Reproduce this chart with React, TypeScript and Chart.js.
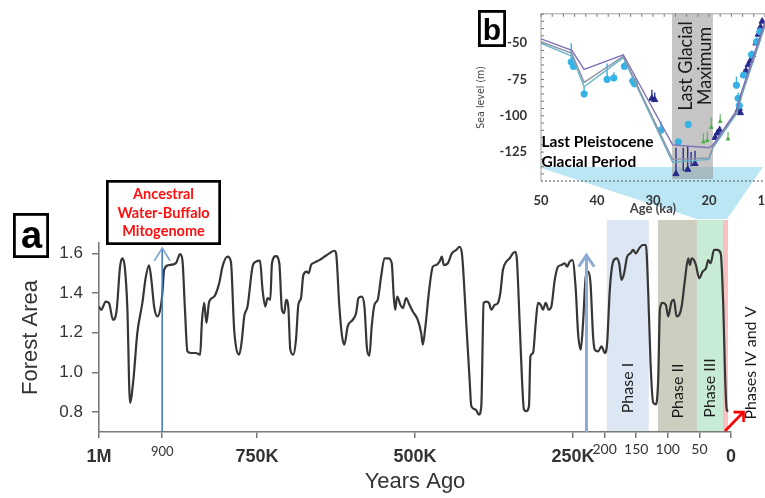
import React, { useEffect, useRef } from 'react';
import { Chart, registerables } from 'chart.js';

Chart.register(...registerables);

// ---------------- Panel a data (thousand years ago, forest area) ----------------
const forestYearsK = [
  1000, 996.4, 989.4, 984.2, 977.8, 972.0, 966.7, 963.1, 959.3, 955.2, 950.9, 945.7, 939.3, 931.4, 926.0,
  920.8, 917.1, 912.8, 907.6, 902.2, 899.7, 897.0, 890.7, 878.5, 871.6, 868.0, 864.2, 860.1, 854.7, 846.8,
  839.9, 837.3, 833.6, 830.0, 825.7, 817.8, 809.8, 804.6, 796.7, 791.3, 786.1, 778.1, 773.9, 770.2, 765.0,
  757.0, 751.7, 745.3, 741.2, 736.9, 733.3, 729.0, 726.3, 720.0, 714.7, 710.5, 706.8, 704.1, 700.5, 697.3,
  692.6, 688.3, 684.6, 680.4, 676.7, 671.5, 668.3, 664.5, 659.3, 651.4, 643.4, 635.5, 627.6, 624.9, 619.7,
  615.4, 611.7, 606.5, 598.6, 593.2, 589.5, 584.3, 580.0, 575.8, 572.1, 568.5, 564.2, 559.0, 553.6, 548.3,
  542.0, 536.8, 533.6, 531.4, 528.2, 523.0, 519.3, 514.0, 508.7, 503.5, 495.6, 490.2, 487.6, 483.8, 477.0,
  471.8, 466.4, 461.2, 457.5, 454.4, 448.0, 441.7, 434.7, 429.5, 425.8, 418.9, 413.6, 410.9, 404.1, 398.9,
  395.1, 391.4, 387.2, 383.0, 379.2, 374.0, 368.8, 365.0, 360.9, 355.5, 350.2, 345.0, 341.2, 338.7, 334.4,
  330.7, 327.6, 323.8, 319.7, 317.4, 313.3, 309.0, 305.4, 301.1, 297.5, 293.2, 288.4, 284.2, 278.9, 273.7,
  268.3, 263.1, 259.4, 255.2, 250.9, 245.6, 242.0, 237.7, 234.1, 229.8, 226.1, 222.3, 218.2, 215.5, 210.3,
  204.9, 199.7, 196.0, 191.8, 186.5, 181.1, 177.0, 173.2, 169.1, 164.3, 159.0, 154.8, 150.6, 145.3, 139.9,
  134.7, 131.1, 127.3, 123.1, 118.9, 115.2, 112.5, 108.2, 103.0, 99.4, 94.0, 90.3, 86.1, 81.9, 78.1,
  72.9, 67.7, 65.0, 62.3, 58.6, 55.5, 50.2, 44.9, 39.6, 36.0, 32.2, 26.9, 21.7, 16.3, 12.2,
  9.5, 6.8, 4.3,
];
const forestArea = [
  1.332, 1.315, 1.357, 1.35, 1.265, 1.315, 1.533, 1.575, 1.533, 1.33, 0.847, 0.96, 1.2, 1.35, 1.48,
  1.54, 1.466, 1.332, 1.282, 1.332, 1.40, 1.516, 1.54, 1.55, 1.596, 1.566, 1.33, 1.106, 1.098, 1.098,
  1.09, 1.249, 1.35, 1.249, 1.357, 1.382, 1.45, 1.533, 1.583, 1.558, 1.215, 1.09, 1.165, 1.282, 1.332,
  1.533, 1.558, 1.563, 1.416, 1.332, 1.374, 1.366, 1.55, 1.586, 1.55, 1.315, 1.299, 1.366, 1.332, 1.115,
  1.09, 1.165, 1.34, 1.374, 1.49, 1.508, 1.5, 1.541, 1.553, 1.566, 1.583, 1.60, 1.613, 1.60, 1.332,
  1.182, 1.14, 1.232, 1.265, 1.299, 1.374, 1.382, 1.332, 1.115, 1.085, 1.232, 1.34, 1.366, 1.483, 1.575,
  1.575, 1.55, 1.382, 1.315, 1.382, 1.34, 1.324, 1.374, 1.34, 1.307, 1.265, 1.198, 1.14, 1.224, 1.432,
  1.533, 1.541, 1.558, 1.583, 1.541, 1.55, 1.60, 1.617, 1.633, 1.60, 1.249, 0.964, 0.83, 0.813, 0.788,
  0.83, 1.35, 1.357, 1.35, 1.316, 1.34, 1.35, 1.40, 1.516, 1.558, 1.575, 1.60, 1.608, 1.566, 1.249,
  0.964, 0.813, 0.805, 0.83, 1.08, 1.098, 1.249, 1.35, 1.34, 1.316, 1.35, 1.316, 1.332, 1.466, 1.533,
  1.541, 1.55, 1.533, 1.558, 1.566, 1.416, 1.198, 1.115, 1.249, 1.483, 1.508, 1.45, 1.182, 1.115, 1.106,
  1.131, 1.098, 1.148, 1.416, 1.558, 1.575, 1.55, 1.466, 1.5, 1.583, 1.60, 1.617, 1.60, 1.625, 1.642,
  1.642, 1.416, 1.048, 0.847, 0.839, 0.964, 1.316, 1.35, 1.34, 1.282, 1.357, 1.366, 1.282, 1.29, 1.332,
  1.466, 1.575, 1.541, 1.575, 1.566, 1.541, 1.474, 1.508, 1.525, 1.566, 1.55, 1.617, 1.617, 1.60, 1.332,
  0.998, 0.813, 0.805,
];
const yearTicksK = [1000, 900, 750, 500, 250, 200, 150, 100, 50, 0];
const yearTickLabels = ['1M', '900', '750K', '500K', '250K', '200', '150', '100', '50', '0'];
const forestTicks = [0.8, 1.0, 1.2, 1.4, 1.6];
const phaseNames = ['Phase I', 'Phase II', 'Phase III', ''];
const phaseStartK = [196.5, 115.7, 53.9, 12.7];
const phaseEndK = [130.0, 53.9, 12.7, 4.8];
const arrowYearsK = [900, 228.7];
const arrowTopArea = [1.627, 1.591];

// ---------------- Panel b data (ka, sea level m) ----------------
const ageTicksKa = [50, 40, 30, 20, 10];
const seaTicksM = [-125, -100, -75, -50];
const modelAgeKa = [50, 44.5, 42.3, 35.3, 26.5, 20.0, 19.3, 15.0, 14.4, 10.0];
const modelSeaA = [-47, -55, -68, -58, -120, -122, -120, -96, -86, -35];
const modelSeaB = [-49, -57, -77, -59, -130, -129, -121, -97, -88, -37];
const modelSeaC = [-50, -59, -80, -60, -132, -130, -122, -98, -89, -38];
const lgmStartKa = 26.6;
const lgmEndKa = 19.3;

const circleAgeKa = [44.6, 44.2, 42.3, 38.2, 37.0, 35.1, 33.6, 33.3, 28.6, 25.5, 23.7, 15.1, 14.8, 14.6, 13.8, 12.4, 11.5, 10.9];
const circleSeaM = [-63, -66, -85, -75, -74, -66, -76, -78, -110, -118, -106, -79, -88, -93, -72, -58, -49, -42];
const circleTopM = [-50, -60, -80, -64, -70, -63, -72, -74, -104, -116, -106, -73, -84, -90, -68, -55, -46, -40];

const triAgeKa = [30.2, 29.7, 25.9, 23.8, 22.5, 18.9, 18.5, 18.1, 14.8, 14.6, 14.4, 13.8, 13.4, 13.0, 12.6, 12.2, 11.6, 11.2, 10.8, 10.5];
const triSeaM = [-88, -89, -140, -137, -133, -115, -112, -110, -96, -95, -98, -72, -69, -65, -62, -58, -50, -44, -39, -35];
const triTopM = [-82, -84, -122, -121, -124, -112, -109, -107, -93, -92, -95, -70, -67, -63, -60, -56, -48, -42, -37, -33];

const barAgeKa = [24.6, 23.2];
const barLowM = [-138, -135];
const barTopM = [-122, -125];

const greenAgeKa = [21.0, 20.3, 19.6, 18.0, 16.6];
const greenSeaM = [-118, -117, -108, -104, -116];
const greenTopM = [-112, -111, -101, -99, -111];

// ---------------- styles ----------------
const ARIAL = '"Liberation Sans", Arial, sans-serif';
const CALIBRI = 'Lato, "Open Sans", sans-serif';
const phaseColors = ['#dde6f3', '#cdcdc0', '#c8ebd5', '#f8c0c0'];

function arrow(ctx: CanvasRenderingContext2D, x1: number, y1: number, x2: number, y2: number,
  color: string, width: number, head: number, spread: number, headColor?: string) {
  ctx.save();
  ctx.strokeStyle = color;
  ctx.lineWidth = width;
  ctx.beginPath();
  ctx.moveTo(x1, y1);
  ctx.lineTo(x2, y2);
  ctx.stroke();
  const ang = Math.atan2(y2 - y1, x2 - x1);
  ctx.strokeStyle = headColor || color;
  ctx.beginPath();
  ctx.moveTo(x2 - head * Math.cos(ang - spread), y2 - head * Math.sin(ang - spread));
  ctx.lineTo(x2, y2);
  ctx.lineTo(x2 - head * Math.cos(ang + spread), y2 - head * Math.sin(ang + spread));
  ctx.stroke();
  ctx.restore();
}

function vText(ctx: CanvasRenderingContext2D, text: string, cx: number, cy: number, font: string, color: string, squeeze = 1) {
  ctx.save();
  ctx.translate(cx, cy);
  ctx.rotate(-Math.PI / 2);
  ctx.scale(squeeze, 1);
  ctx.font = font;
  ctx.fillStyle = color;
  ctx.textAlign = 'center';
  ctx.textBaseline = 'middle';
  ctx.fillText(text, 0, 0);
  ctx.restore();
}

function labelBox(ctx: CanvasRenderingContext2D, x: number, y: number, w: number, h: number, lw: number) {
  ctx.save();
  ctx.fillStyle = '#ffffff';
  ctx.fillRect(x, y, w, h);
  ctx.strokeStyle = '#000000';
  ctx.lineWidth = lw;
  ctx.strokeRect(x + lw / 2, y + lw / 2, w - lw, h - lw);
  ctx.restore();
}

const mainDecor = {
  id: 'mainDecor',
  beforeDraw(chart: any) {
    const { ctx } = chart;
    const xs = chart.scales.x;
    const ys = chart.scales.y;
    ctx.save();
    // connector from inset b down to the recent phases
    ctx.fillStyle = 'rgba(120, 205, 232, 0.5)';
    ctx.beginPath();
    ctx.moveTo(538, 167);
    ctx.lineTo(763, 167);
    ctx.lineTo(727, 219);
    ctx.lineTo(697, 219);
    ctx.closePath();
    ctx.fill();
    // phase bands
    const top = ys.getPixelForValue(1.768);
    const bottom = ys.getPixelForValue(0.7);
    phaseStartK.forEach((s, i) => {
      const x1 = xs.getPixelForValue(s);
      const x2 = xs.getPixelForValue(phaseEndK[i]);
      ctx.fillStyle = phaseColors[i];
      ctx.fillRect(x1, top, x2 - x1, bottom - top);
    });
    ctx.restore();
  },
  afterDraw(chart: any) {
    const { ctx } = chart;
    const xs = chart.scales.x;
    const ys = chart.scales.y;
    ctx.save();
    // phase labels
    phaseNames.forEach((n, i) => {
      if (!n) return;
      const cx = (xs.getPixelForValue(phaseStartK[i]) + xs.getPixelForValue(phaseEndK[i])) / 2;
      const cys = [388, 391, 388];
      vText(ctx, n, cx, cys[i], `16px ${CALIBRI}`, '#1a1a1a');
    });
    vText(ctx, 'Phases IV and V', 751, 363, `16px ${CALIBRI}`, '#1a1a1a');

    // arrows
    const base = ys.getPixelForValue(0.7);
    const ax0 = xs.getPixelForValue(arrowYearsK[0]);
    arrow(ctx, ax0, base, ax0, ys.getPixelForValue(arrowTopArea[0]), '#4a7dbd', 1.6, 15, 0.55, '#7fa3d3');
    const ax1 = xs.getPixelForValue(arrowYearsK[1]);
    arrow(ctx, ax1, base, ax1, ys.getPixelForValue(arrowTopArea[1]), '#8eaad3', 3, 14, 0.59);
    arrow(ctx, 725, 431, 743.5, 412, '#ff0000', 2.6, 10, Math.PI / 4);

    // panel label a
    labelBox(ctx, 13, 213, 36, 45, 2.8);
    ctx.fillStyle = '#000';
    ctx.font = `bold 38px ${ARIAL}`;
    ctx.textAlign = 'center';
    ctx.textBaseline = 'alphabetic';
    ctx.fillText('a', 31.5, 248);

    // annotation box
    labelBox(ctx, 106, 180, 115, 65, 2.7);
    ctx.fillStyle = '#ff1010';
    ctx.font = `bold 14.5px ${CALIBRI}`;
    ctx.fillText('Ancestral', 163.5, 198.5);
    ctx.fillText('Water-Buffalo', 163.5, 217.5);
    ctx.fillText('Mitogenome', 163.5, 236);
    ctx.restore();
  },
};

const insetDecor = {
  id: 'insetDecor',
  beforeDatasetsDraw(chart: any) {
    const { ctx, chartArea: a } = chart;
    const xs = chart.scales.x;
    const ys = chart.scales.y;
    ctx.save();
    const x1 = xs.getPixelForValue(lgmStartKa);
    const x2 = xs.getPixelForValue(lgmEndKa);
    ctx.fillStyle = 'rgba(150, 150, 150, 0.55)';
    ctx.fillRect(x1, a.top, x2 - x1, a.bottom - a.top - 2);
    // frame
    ctx.strokeStyle = '#a0a0a0';
    ctx.lineWidth = 1;
    ctx.beginPath();
    ctx.moveTo(a.left, a.bottom);
    ctx.lineTo(a.left, a.top);
    ctx.lineTo(a.right, a.top);
    ctx.stroke();
    ctx.strokeStyle = '#777';
    for (let k = 10; k <= 50; k += 2) {
      const px = xs.getPixelForValue(k);
      ctx.beginPath();
      ctx.moveTo(px, a.top);
      ctx.lineTo(px, a.top + 3);
      ctx.stroke();
    }
    for (let m = -140; m <= -30; m += 5) {
      const py = ys.getPixelForValue(m);
      ctx.beginPath();
      ctx.moveTo(a.left, py);
      ctx.lineTo(a.left + 3, py);
      ctx.stroke();
    }
    ctx.strokeStyle = '#555';
    ctx.setLineDash([2, 2]);
    ctx.beginPath();
    ctx.moveTo(a.left, a.bottom);
    ctx.lineTo(a.right, a.bottom);
    ctx.stroke();
    ctx.setLineDash([]);
    // vertical error bars
    chart.data.datasets.forEach((ds: any) => {
      if (!ds.errTop) return;
      ctx.strokeStyle = ds.errColor;
      ctx.lineWidth = ds.errWidth;
      ds.data.forEach((p: any, j: number) => {
        const px = xs.getPixelForValue(p.x);
        ctx.beginPath();
        ctx.moveTo(px, ys.getPixelForValue(p.y));
        ctx.lineTo(px, ys.getPixelForValue(ds.errTop[j]));
        ctx.stroke();
      });
    });
    ctx.restore();
  },
  afterDraw(chart: any) {
    const { ctx } = chart;
    const xs = chart.scales.x;
    ctx.save();
    const cx = (xs.getPixelForValue(lgmStartKa) + xs.getPixelForValue(lgmEndKa)) / 2;
    vText(ctx, 'Last Glacial', cx - 6.5, 66, `20px ${CALIBRI}`, '#1a1a1a', 0.9);
    vText(ctx, 'Maximum', cx + 12, 66, `20px ${CALIBRI}`, '#1a1a1a', 0.9);
    ctx.fillStyle = '#000';
    ctx.font = `bold 15.5px ${CALIBRI}`;
    ctx.textAlign = 'left';
    ctx.textBaseline = 'alphabetic';
    ctx.fillText('Last Pleistocene', 71.5, 146.7);
    ctx.fillText('Glacial Period', 71.5, 166.7);
    // panel label b
    labelBox(ctx, 8, 10, 28, 37, 2.8);
    ctx.fillStyle = '#000';
    ctx.font = `bold 30px ${ARIAL}`;
    ctx.textAlign = 'center';
    ctx.fillText('b', 22, 39.5);
    ctx.restore();
  },
};

export default function App() {
  const mainRef = useRef<HTMLCanvasElement>(null);
  const insetRef = useRef<HTMLCanvasElement>(null);

  useEffect(() => {
    const main = new Chart(mainRef.current as HTMLCanvasElement, {
      type: 'line',
      data: {
        datasets: [{
          data: forestYearsK.map((k, i) => ({ x: k, y: forestArea[i] })),
          borderColor: '#363636',
          borderWidth: 2.2,
          pointRadius: 0,
          cubicInterpolationMode: 'monotone',
          fill: false,
        }],
      },
      options: {
        responsive: false,
        animation: false,
        layout: { padding: { top: 243, right: 34, left: 0, bottom: 0 } },
        plugins: { legend: { display: false }, tooltip: { enabled: false } },
        scales: {
          x: {
            type: 'linear',
            min: 0,
            max: 1000,
            reverse: true,
            afterFit: (s: any) => { s.height = 66; },
            afterBuildTicks: (s: any) => { s.ticks = yearTicksK.map((v) => ({ value: v })); },
            grid: { display: true, drawOnChartArea: false, drawTicks: true, tickLength: 6, color: '#777', lineWidth: 1.5 },
            border: { display: true, color: '#7a7a7a', width: 1.6 },
            ticks: {
              autoSkip: false,
              maxRotation: 0,
              minRotation: 0,
              padding: 8,
              color: '#333',
              callback: (_v: any, i: number) => yearTickLabels[i],
              font: (c: any) => {
                const lab = yearTickLabels[c.index];
                if (lab === '900') return { family: CALIBRI, size: 13, lineHeight: 0.92 };
                if (['200', '150', '100', '50'].includes(lab)) return { family: CALIBRI, size: 14, lineHeight: 0.5 };
                return { family: ARIAL, size: 18, weight: 'bold', lineHeight: 1.2 };
              },
            },
            title: { display: true, text: 'Years Ago', color: '#333', font: { family: ARIAL, size: 22 }, padding: { top: 0, bottom: 3 } },
          },
          y: {
            min: 0.7,
            max: 1.652,
            bounds: 'data',
            afterFit: (s: any) => { s.width = 99; },
            afterBuildTicks: (s: any) => { s.ticks = forestTicks.map((v) => ({ value: v })); },
            grid: { display: true, drawOnChartArea: false, drawTicks: true, tickLength: 7, color: '#777', lineWidth: 1.5 },
            border: { display: true, color: '#7a7a7a', width: 1.6 },
            ticks: {
              padding: 9,
              color: '#333',
              font: { family: ARIAL, size: 17 },
              callback: (v: any) => Number(v).toFixed(1),
            },
            title: { display: true, text: 'Forest Area', color: '#333', font: { family: ARIAL, size: 22 }, padding: { top: 18, bottom: 0 } },
          },
        },
      } as any,
      plugins: [mainDecor],
    });

    const pts = (xa: number[], ya: number[]) => xa.map((x, i) => ({ x, y: ya[i] }));

    const inset = new Chart(insetRef.current as HTMLCanvasElement, {
      type: 'scatter',
      data: {
        datasets: [
          { data: pts(modelAgeKa, modelSeaA), showLine: true, borderColor: '#7b6fb8', borderWidth: 1.4, pointRadius: 0 },
          { data: pts(modelAgeKa, modelSeaB), showLine: true, borderColor: '#8d93a6', borderWidth: 1.4, pointRadius: 0 },
          { data: pts(modelAgeKa, modelSeaC), showLine: true, borderColor: '#62b3c6', borderWidth: 1.4, pointRadius: 0 },
          {
            data: pts(circleAgeKa, circleSeaM), pointStyle: 'circle', pointRadius: 3.2,
            backgroundColor: '#36b3e6', borderColor: '#36b3e6', errTop: circleTopM, errColor: '#36b3e6', errWidth: 1.4,
          },
          {
            data: pts(barAgeKa, barLowM), pointRadius: 0, errTop: barTopM, errColor: '#2a2f8f', errWidth: 1.4,
          },
          {
            data: pts(greenAgeKa, greenSeaM), pointStyle: 'triangle', pointRadius: 2,
            backgroundColor: '#4cae4c', borderColor: '#4cae4c', errTop: greenTopM, errColor: '#5cb85c', errWidth: 1.2,
          },
          {
            data: pts(triAgeKa, triSeaM), pointStyle: 'triangle', pointRadius: 3.6,
            backgroundColor: '#25298a', borderColor: '#25298a', errTop: triTopM, errColor: '#2a2f8f', errWidth: 1.4,
          },
        ],
      } as any,
      options: {
        responsive: false,
        animation: false,
        layout: { padding: { top: 12, right: 35, left: 0, bottom: 0 } },
        plugins: { legend: { display: false }, tooltip: { enabled: false } },
        scales: {
          x: {
            type: 'linear',
            min: 10,
            max: 50,
            reverse: true,
            afterFit: (s: any) => { s.height = 39; },
            afterBuildTicks: (s: any) => { s.ticks = ageTicksKa.map((v) => ({ value: v })); },
            grid: { display: false },
            border: { display: false },
            ticks: { autoSkip: false, maxRotation: 0, padding: 3.7, color: '#333', font: { family: CALIBRI, size: 13, weight: 'bold' } },
            title: { display: true, text: 'Age (ka)', color: '#444', font: { family: CALIBRI, size: 13, weight: 'bold' }, padding: { top: 0, bottom: 3 } },
          },
          y: {
            min: -144.9,
            max: -29.8,
            bounds: 'data',
            afterFit: (s: any) => { s.width = 71; },
            afterBuildTicks: (s: any) => { s.ticks = seaTicksM.map((v) => ({ value: v })); },
            grid: { display: false },
            border: { display: false },
            ticks: { padding: 6, color: '#333', font: { family: CALIBRI, size: 13, weight: 'bold' } },
            title: { display: true, text: 'Sea level (m)', color: '#444', font: { family: '"DejaVu Sans Condensed", "Liberation Sans Narrow", sans-serif', size: 10.5 }, padding: { top: 5, bottom: 0 } },
          },
        },
      } as any,
      plugins: [insetDecor],
    });

    return () => {
      main.destroy();
      inset.destroy();
    };
  }, []);

  return (
    <div style={{ position: 'absolute', left: 0, top: 0, width: 765, height: 498, overflow: 'hidden', background: '#ffffff' }}>
      <canvas ref={mainRef} width={765} height={498} style={{ position: 'absolute', left: 0, top: 0 }} />
      <canvas ref={insetRef} width={330} height={220} style={{ position: 'absolute', left: 470, top: 0 }} />
    </div>
  );
}
